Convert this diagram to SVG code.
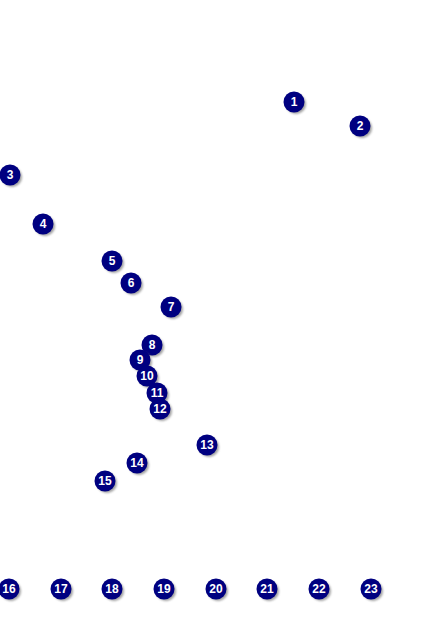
<svg xmlns="http://www.w3.org/2000/svg" width="424" height="636" viewBox="0 0 424 636">
<defs>
<style>
.sh{fill:#777;opacity:0.7}
.c{fill:#000080}
.t{fill:#fff;font-family:"Liberation Sans",Arial,sans-serif;font-weight:bold;font-size:12px;text-anchor:middle;dominant-baseline:central}
</style>
<filter id="blur" x="-50%" y="-50%" width="200%" height="200%"><feGaussianBlur stdDeviation="1"/></filter>
<g id="marker"><circle class="sh" cx="2" cy="2" r="10" filter="url(#blur)"/><circle class="c" r="10.5"/></g>
</defs>
<rect width="424" height="636" fill="#fff"/>
<g id="connectors"></g>
<g id="n1" transform="translate(294,102)"><use href="#marker"/><text class="t">1</text></g>
<g id="n2" transform="translate(360,126)"><use href="#marker"/><text class="t">2</text></g>
<g id="n3" transform="translate(10,175)"><use href="#marker"/><text class="t">3</text></g>
<g id="n4" transform="translate(43,224)"><use href="#marker"/><text class="t">4</text></g>
<g id="n5" transform="translate(112,261)"><use href="#marker"/><text class="t">5</text></g>
<g id="n6" transform="translate(131,283)"><use href="#marker"/><text class="t">6</text></g>
<g id="n7" transform="translate(171,307)"><use href="#marker"/><text class="t">7</text></g>
<g id="n8" transform="translate(152,345)"><use href="#marker"/><text class="t">8</text></g>
<g id="n9" transform="translate(140,360)"><use href="#marker"/><text class="t">9</text></g>
<g id="n10" transform="translate(147,376)"><use href="#marker"/><text class="t">10</text></g>
<g id="n11" transform="translate(157,393)"><use href="#marker"/><text class="t">11</text></g>
<g id="n12" transform="translate(160,409)"><use href="#marker"/><text class="t">12</text></g>
<g id="n13" transform="translate(207,445)"><use href="#marker"/><text class="t">13</text></g>
<g id="n14" transform="translate(137,463)"><use href="#marker"/><text class="t">14</text></g>
<g id="n15" transform="translate(105,481)"><use href="#marker"/><text class="t">15</text></g>
<g id="n16" transform="translate(9,589)"><use href="#marker"/><text class="t">16</text></g>
<g id="n17" transform="translate(61,589)"><use href="#marker"/><text class="t">17</text></g>
<g id="n18" transform="translate(112,589)"><use href="#marker"/><text class="t">18</text></g>
<g id="n19" transform="translate(164,589)"><use href="#marker"/><text class="t">19</text></g>
<g id="n20" transform="translate(216,589)"><use href="#marker"/><text class="t">20</text></g>
<g id="n21" transform="translate(267,589)"><use href="#marker"/><text class="t">21</text></g>
<g id="n22" transform="translate(319,589)"><use href="#marker"/><text class="t">22</text></g>
<g id="n23" transform="translate(371,589)"><use href="#marker"/><text class="t">23</text></g>
</svg>
